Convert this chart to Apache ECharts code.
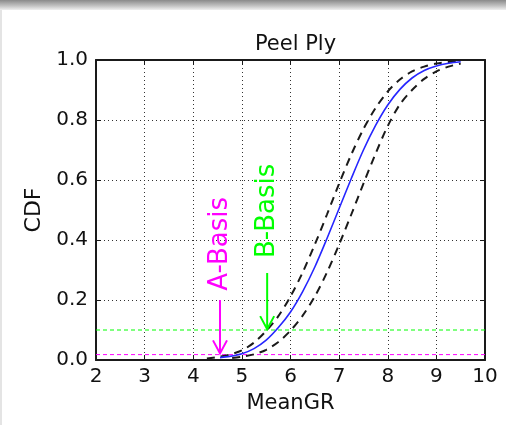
<!DOCTYPE html>
<html>
<head>
<meta charset="utf-8">
<script src="https://cdn.jsdelivr.net/npm/echarts@6/dist/echarts.min.js"></script>
<style>
html,body{margin:0;padding:0;background:#fff;}
#c{width:506px;height:425px;}
</style>
</head>
<body>
<div id="c"></div>
<script>
// ---- data ----
var chartTitle = 'Peel Ply';
var xName = 'MeanGR';
var yName = 'CDF';
var xTicks = [2, 3, 4, 5, 6, 7, 8, 9, 10];
var yTicks = [0.0, 0.2, 0.4, 0.6, 0.8, 1.0];

// mean CDF (blue solid)
var meanX = [4.55, 4.75, 5.0, 5.25, 5.5, 5.75, 6.0, 6.25, 6.5, 6.75, 7.0, 7.25, 7.5, 7.75, 8.0, 8.25, 8.5, 8.75, 9.0, 9.25, 9.5];
var meanY = [0.008, 0.012, 0.021, 0.038, 0.066, 0.108, 0.160, 0.228, 0.310, 0.405, 0.505, 0.605, 0.700, 0.782, 0.850, 0.902, 0.940, 0.965, 0.980, 0.989, 0.994];

// upper confidence bound (black dashed, left)
var upperX = [4.28, 4.5, 4.75, 5.0, 5.25, 5.5, 5.75, 6.0, 6.25, 6.5, 6.75, 7.0, 7.25, 7.5, 7.75, 8.0, 8.25, 8.5, 8.75, 9.0, 9.25, 9.5];
var upperY = [0.005, 0.010, 0.018, 0.032, 0.058, 0.097, 0.146, 0.212, 0.292, 0.385, 0.485, 0.588, 0.685, 0.770, 0.840, 0.895, 0.935, 0.962, 0.978, 0.988, 0.993, 0.996];

// lower confidence bound (black dashed, right)
var lowerX = [4.8, 5.0, 5.25, 5.5, 5.75, 6.0, 6.25, 6.5, 6.75, 7.0, 7.25, 7.5, 7.75, 8.0, 8.25, 8.5, 8.75, 9.0, 9.25, 9.5];
var lowerY = [0.007, 0.011, 0.019, 0.034, 0.060, 0.098, 0.148, 0.212, 0.292, 0.385, 0.485, 0.588, 0.688, 0.780, 0.852, 0.900, 0.937, 0.962, 0.978, 0.988];

// basis levels (horizontal dashed lines)
var bLevel = 0.10;
var aLevel = 0.018;

// annotations
var annNames  = ['A-Basis', 'B-Basis'];
var annX      = [4.55, 5.52];
var annTop    = [0.20, 0.29];
var annTip    = [0.022, 0.103];
var annText   = [0.387, 0.497];
var annColors = ['#ff00ff', '#00ff00'];

function pairs(xs, ys){ return xs.map(function(x,i){ return [x, ys[i]]; }); }

var chart = echarts.init(document.getElementById('c'));
var FONT = 'DejaVu Sans';
var axisLine = {show:true, onZero:false, lineStyle:{color:'#1a1a1a', width:2}};
var tick = {show:true, inside:true, length:5, lineStyle:{color:'#1a1a1a', width:1}};

var annData = annNames.map(function(n,i){ return [annX[i], annTop[i], annTip[i], annText[i], n, annColors[i]]; });

chart.setOption({
  animation:false,
  backgroundColor:'#ffffff',
  title:{text:chartTitle, left:290.5, top:29, textAlign:'center',
    textStyle:{fontFamily:FONT, fontSize:21, fontWeight:'normal', color:'#111'}},
  graphic:[
    {type:'rect', left:0, top:0, shape:{width:506, height:10}, z:100,
      style:{fill:new echarts.graphic.LinearGradient(0,0,0,1,[{offset:0,color:'#8a8a8a'},{offset:0.6,color:'#c4c4c4'},{offset:1,color:'#f0f0f0'}])}},
    {type:'rect', left:0, top:10, shape:{width:2, height:415}, z:100, style:{fill:'#e4e4e4'}}
  ],
  grid:{left:96, right:21, top:60, bottom:65, containLabel:false},
  xAxis:[
    {type:'value', min:2, max:10, interval:1, position:'bottom',
      name:xName, nameLocation:'middle', nameGap:33,
      nameTextStyle:{fontFamily:FONT, fontSize:21, color:'#111'},
      axisLine:axisLine, axisTick:tick,
      axisLabel:{fontFamily:FONT, fontSize:20, color:'#111', margin:7,
        formatter:function(v){ return xTicks.indexOf(v) >= 0 ? String(v) : ''; }},
      splitLine:{show:true, lineStyle:{color:'#333', width:1, type:[1,3]}}},
    {type:'value', min:2, max:10, interval:1, position:'top',
      axisLine:axisLine, axisTick:tick, axisLabel:{show:false}, splitLine:{show:false}}
  ],
  yAxis:[
    {type:'value', min:0, max:1, interval:0.2, position:'left',
      name:yName, nameLocation:'middle', nameGap:47, nameRotate:90,
      nameTextStyle:{fontFamily:FONT, fontSize:22, color:'#111'},
      axisLine:axisLine, axisTick:tick,
      axisLabel:{fontFamily:FONT, fontSize:20, color:'#111', margin:8,
        formatter:function(v){ return v.toFixed(1); }},
      splitLine:{show:true, lineStyle:{color:'#333', width:1, type:[1,3]}}},
    {type:'value', min:0, max:1, interval:0.2, position:'right',
      axisLine:axisLine, axisTick:tick, axisLabel:{show:false}, splitLine:{show:false}}
  ],
  series:[
    {type:'line', data:[[2,bLevel],[10,bLevel]], symbol:'none', silent:true,
      lineStyle:{color:'#00ff00', width:1, type:[4,3]}, z:2},
    {type:'line', data:[[2,aLevel],[10,aLevel]], symbol:'none', silent:true,
      lineStyle:{color:'#ff00ff', width:1, type:[4,3]}, z:2},
    {type:'line', data:pairs(upperX, upperY), symbol:'none', smooth:0.3,
      lineStyle:{color:'#1a1a1a', width:2, type:[8,6]}, z:3},
    {type:'line', data:pairs(lowerX, lowerY), symbol:'none', smooth:0.3,
      lineStyle:{color:'#1a1a1a', width:2, type:[8,6]}, z:3},
    {type:'line', data:pairs(meanX, meanY), symbol:'none', smooth:0.3,
      lineStyle:{color:'#2626ff', width:1.6}, z:4},
    {type:'custom', data:annData, z:5, clip:false,
      renderItem:function(params, api){
        var x = api.value(0);
        var top = api.coord([x, api.value(1)]);
        var tip = api.coord([x, api.value(2)]);
        var tc = api.coord([x, api.value(3)]);
        var d = annData[params.dataIndex];
        var col = d[5];
        return {type:'group', children:[
          {type:'line', shape:{x1:top[0], y1:top[1], x2:tip[0], y2:tip[1]},
            style:{stroke:col, lineWidth:2}},
          {type:'polyline', shape:{points:[[tip[0]-7, tip[1]-13],[tip[0], tip[1]],[tip[0]+7, tip[1]-13]]},
            style:{stroke:col, lineWidth:2, fill:null}},
          {type:'text', x:tc[0], y:tc[1], rotation:Math.PI/2,
            style:{text:d[4], fill:col, font:'26px "DejaVu Sans"', align:'center', verticalAlign:'middle'}}
        ]};
      }}
  ]
});
</script>
</body>
</html>
